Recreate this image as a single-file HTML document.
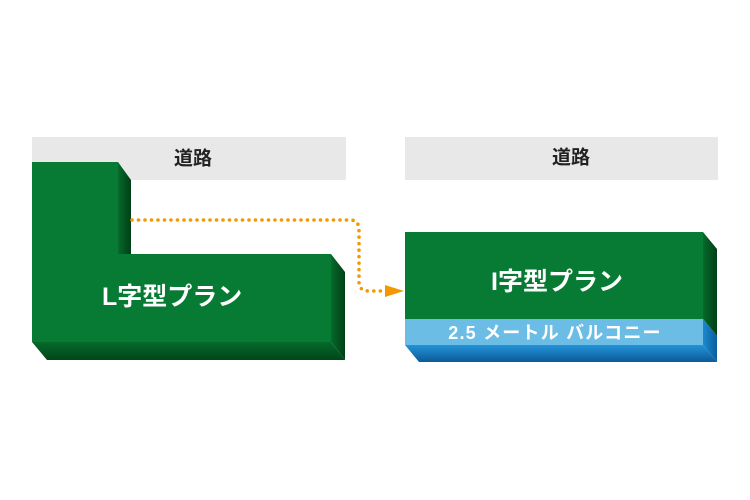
<!DOCTYPE html>
<html><head><meta charset="utf-8"><style>
html,body{margin:0;padding:0;background:#fff;}
svg{display:block;}
text{font-family:"Liberation Sans","Noto Sans CJK JP",sans-serif;font-weight:bold;}
</style></head><body>
<svg width="750" height="500" viewBox="0 0 750 500" xmlns="http://www.w3.org/2000/svg">
<defs>
<linearGradient id="gs" x1="0" y1="0" x2="1" y2="0"><stop offset="0" stop-color="#066a2b"/><stop offset="1" stop-color="#003f16"/></linearGradient>
<linearGradient id="gb" x1="0" y1="0" x2="0" y2="1"><stop offset="0" stop-color="#066a2b"/><stop offset="1" stop-color="#00461a"/></linearGradient>
<linearGradient id="bs" x1="0" y1="0" x2="1" y2="0"><stop offset="0" stop-color="#1d8ad0"/><stop offset="1" stop-color="#0b5d9c"/></linearGradient>
<linearGradient id="bb" x1="0" y1="0" x2="0" y2="1"><stop offset="0" stop-color="#2393d8"/><stop offset="1" stop-color="#0b5a98"/></linearGradient>
</defs>
<!-- roads -->
<rect x="32" y="137" width="314" height="43" fill="#e8e8e8"/>
<rect x="405" y="137" width="313" height="43" fill="#e8e8e8"/>
<text x="193" y="159" font-size="19" fill="#222" text-anchor="middle" dominant-baseline="central">道路</text>
<text x="571" y="158" font-size="19" fill="#222" text-anchor="middle" dominant-baseline="central">道路</text>
<!-- L shape -->
<polygon points="118,162 131,180 131,254 118,254" fill="url(#gs)"/>
<polygon points="331,254 345,272 345,360 331,342" fill="url(#gs)"/>
<polygon points="32,342 331,342 345,360 47,360" fill="url(#gb)"/>
<polygon points="32,162 118,162 118,254 331,254 331,342 32,342" fill="#077b33"/>
<text x="102" y="297" font-size="25" fill="#fff" dominant-baseline="central">L字型プラン</text>
<!-- I shape -->
<polygon points="703,232 717,249 717,336 703,319" fill="url(#gs)"/>
<polygon points="703,319 717,336 717,362 703,345" fill="url(#bs)"/>
<polygon points="405,345 703,345 717,362 419,362" fill="url(#bb)"/>
<rect x="405" y="232" width="298" height="87" fill="#077b33"/>
<rect x="405" y="319" width="298" height="26" fill="#6cbde6"/>
<text x="557" y="282" font-size="25" fill="#fff" text-anchor="middle" dominant-baseline="central">I字型プラン</text>
<text x="555" y="333" font-size="18" fill="#fff" text-anchor="middle" dominant-baseline="central" letter-spacing="1.2">2.5 メートル バルコニー</text>
<!-- dotted connector -->
<path d="M132,220 H350 Q359,220 359,230 V282 Q359,291 369,291 H382" fill="none" stroke="#f39800" stroke-width="3.6" stroke-linecap="round" stroke-dasharray="0 6.5"/>
<polygon points="385,285 404,291 385,297" fill="#f39800"/>
</svg>
</body></html>
